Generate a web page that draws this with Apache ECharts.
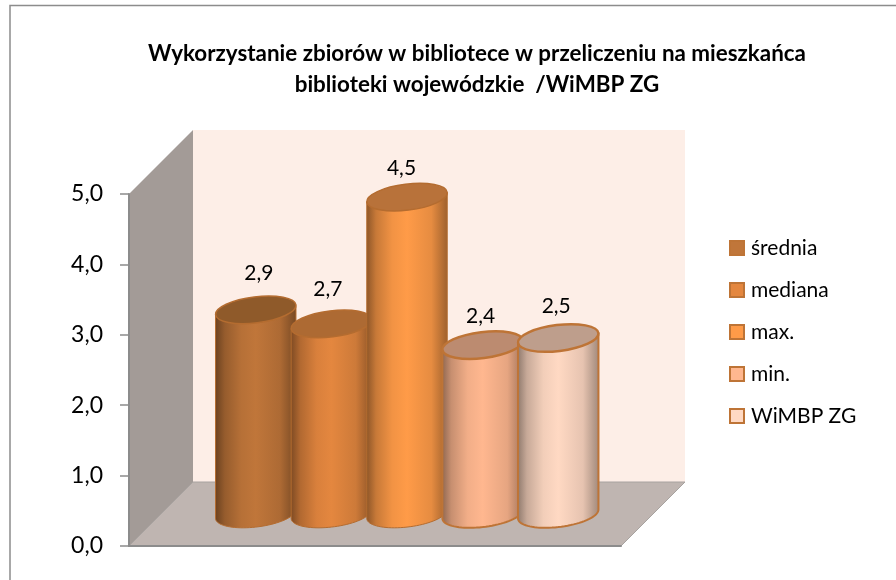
<!doctype html>
<html>
    <head>
        <meta charset="utf-8">
        <title>Wykorzystanie zbiorów</title>
        <style>
            html, body { margin: 0; padding: 0; background: #fff; }
            #main { width: 896px; height: 580px; }
        </style>
    </head>
    <body>
        <div id="main"></div>
        <script src="https://cdn.jsdelivr.net/npm/echarts@6/dist/echarts.min.js"></script>
        <script>
            var seriesNames = ['średnia', 'mediana', 'max.', 'min.', 'WiMBP ZG'];
            var seriesValues = [2.9, 2.7, 4.5, 2.4, 2.5];
            var categories = ['biblioteki wojewódzkie'];
            var titleText = 'Wykorzystanie zbiorów w bibliotece w przeliczeniu na mieszkańca\nbiblioteki wojewódzkie  /WiMBP ZG';

            var bodyColors = ['#C0763A', '#E4873F', '#FF9B48', '#FFB78F', '#FFD9C3'];
            var capColors = ['#8F5A2A', '#AD6A33', '#B8723A', '#BC8B70', '#BE9E8C'];
            var rimColors = ['#B46C30', '#B46C30', '#B46C30', '#BE7436', '#BE7436'];
            var rimWidths = [1, 1, 1, 2, 2];
            var labelLift = [37, 35, 29, 29, 32];
            var labelShift = [3, -3.5, -5.5, -2, -2];

            var depth = 64;           // px shift of the back wall
            var barStepRatio = 0.1537; // of the category band
            var barWidthRatio = 0.1646;
            var tilt = 7 * Math.PI / 180;
            var capRy = 13;

            function shade(hex, k) {
                var n = parseInt(hex.slice(1), 16);
                var r = Math.round((n >> 16) * k);
                var g = Math.round(((n >> 8) & 255) * k);
                var b = Math.round((n & 255) * k);
                return 'rgb(' + r + ',' + g + ',' + b + ')';
            }

            function bodyGradient(hex) {
                return {
                    type: 'linear', x: 0, y: 0, x2: 1, y2: 0,
                    colorStops: [
                        { offset: 0, color: shade(hex, 0.55) },
                        { offset: 0.12, color: shade(hex, 0.78) },
                        { offset: 0.32, color: shade(hex, 0.95) },
                        { offset: 0.5, color: hex },
                        { offset: 0.8, color: shade(hex, 0.9) },
                        { offset: 1, color: shade(hex, 0.62) }
                    ]
                };
            }

            function renderWalls(params, api) {
                var band = api.size([1, 0])[0];
                var mid = api.coord([0, 0])[0];
                var l = mid - band / 2;
                var r = mid + band / 2;
                var y0 = api.coord([0, 0])[1];
                var y5 = api.coord([0, 5])[1];
                return {
                    type: 'group',
                    children: [{
                        type: 'polygon',
                        shape: { points: [[l + depth, y5 - depth], [r + depth, y5 - depth], [r + depth, y0 - depth], [l + depth, y0 - depth]] },
                        style: { fill: '#FDEEE7' }
                    }, {
                        type: 'polygon',
                        shape: { points: [[l, y5], [l + depth, y5 - depth], [l + depth, y0 - depth], [l, y0]] },
                        style: { fill: '#A39B97' }
                    }, {
                        type: 'polygon',
                        shape: { points: [[l, y0], [l + depth, y0 - depth], [r + depth, y0 - depth], [r, y0]] },
                        style: { fill: '#BFB5B1', stroke: '#A8A3A0', lineWidth: 1 }
                    }]
                };
            }

            function makeRenderBar(i) {
                return function (params, api) {
                    var band = api.size([1, 0])[0];
                    var cx = api.coord([0, 0])[0] + depth / 2 + (i - 2) * band * barStepRatio;
                    var base = api.coord([0, 0])[1] - depth / 2;
                    var top = api.coord([0, api.value(1)])[1] - depth / 2;
                    var rx = band * barWidthRatio / 2;
                    var ca = Math.cos(tilt);
                    var sa = Math.sin(tilt);
                    // parameter where the tilted ellipse is widest
                    var t0 = Math.atan2(capRy * sa, rx * ca);
                    var pts = [];
                    var t, k;
                    var ex = rx * Math.cos(t0) * ca + capRy * Math.sin(t0) * sa;
                    var ey = -rx * Math.cos(t0) * sa + capRy * Math.sin(t0) * ca;
                    pts.push([cx - ex, top - ey]);
                    for (k = 0; k <= 40; k++) {
                        t = Math.PI + t0 - k / 40 * Math.PI;
                        pts.push([
                            cx + rx * Math.cos(t) * ca + capRy * Math.sin(t) * sa,
                            base - rx * Math.cos(t) * sa + capRy * Math.sin(t) * ca
                        ]);
                    }
                    pts.push([cx + ex, top + ey]);
                    return {
                        type: 'group',
                        children: [{
                            type: 'polygon',
                            shape: { points: pts },
                            style: { fill: bodyGradient(bodyColors[i]), stroke: rimColors[i], lineWidth: rimWidths[i] }
                        }, {
                            type: 'ellipse',
                            x: cx,
                            y: top,
                            rotation: tilt,
                            shape: { cx: 0, cy: 0, rx: rx, ry: capRy },
                            style: { fill: capColors[i], stroke: rimColors[i], lineWidth: rimWidths[i] + 0.5 }
                        }, {
                            type: 'text',
                            x: cx + labelShift[i],
                            y: top - labelLift[i],
                            style: {
                                text: api.value(1).toFixed(1).replace('.', ','),
                                fill: '#000',
                                font: '21px Lato',
                                textAlign: 'center',
                                textVerticalAlign: 'middle'
                            }
                        }]
                    };
                };
            }

            var legendData = seriesNames.map(function (name, i) {
                return {
                    name: name,
                    itemStyle: { color: bodyColors[i], borderColor: '#BE7436', borderWidth: 2 }
                };
            });

            var series = [{
                type: 'custom',
                z: 1,
                silent: true,
                renderItem: renderWalls,
                data: [[0, 0]]
            }];
            seriesNames.forEach(function (name, i) {
                series.push({
                    type: 'custom',
                    name: name,
                    z: 3 + i,
                    renderItem: makeRenderBar(i),
                    encode: { x: 0, y: 1 },
                    data: [[0, seriesValues[i]]]
                });
            });

            var chart = echarts.init(document.getElementById('main'));
            chart.setOption({
                animation: false,
                backgroundColor: '#fff',
                textStyle: { fontFamily: 'Lato' },
                graphic: [{
                    type: 'rect',
                    shape: { x: 10, y: 5.5, width: 920, height: 620 },
                    style: { fill: 'none', stroke: '#8C8C8C', lineWidth: 1.5 },
                    silent: true
                }],
                title: {
                    text: titleText,
                    left: 477,
                    top: 38,
                    padding: 0,
                    textAlign: 'center',
                    textStyle: { fontSize: 22.4, fontWeight: 'bold', color: '#000', lineHeight: 31, fontFamily: 'Lato' }
                },
                legend: {
                    orient: 'vertical',
                    left: 729,
                    top: 236,
                    padding: 0,
                    itemWidth: 14,
                    itemHeight: 14,
                    itemGap: 18,
                    icon: 'rect',
                    selectedMode: false,
                    textStyle: { fontSize: 21, color: '#000', lineHeight: 24, padding: [0, 0, 0, 2] },
                    data: legendData
                },
                grid: { left: 129, right: 275, top: 194, bottom: 34 },
                xAxis: {
                    type: 'category',
                    data: categories,
                    z: 2,
                    axisLine: { show: true, lineStyle: { color: '#8C8C8C', width: 2 } },
                    axisTick: { show: false },
                    axisLabel: { show: false }
                },
                yAxis: {
                    type: 'value',
                    min: 0,
                    max: 5,
                    interval: 1,
                    z: 2,
                    splitLine: { show: false },
                    axisLine: { show: true, lineStyle: { color: '#8C8C8C', width: 2 } },
                    axisTick: { show: true, length: 9, lineStyle: { color: '#8C8C8C', width: 1.5 } },
                    axisLabel: {
                        fontSize: 23,
                        color: '#000',
                        margin: 26,
                        padding: [4, 0, 0, 0],
                        formatter: function (v) { return v.toFixed(1).replace('.', ','); }
                    }
                },
                series: series
            });
        </script>
    </body>
</html>
